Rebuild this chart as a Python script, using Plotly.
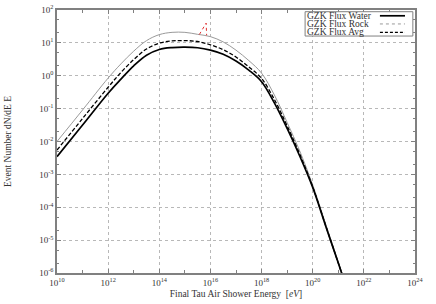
import plotly.graph_objects as go

# Energy grid (eV)
energy = [1e10, 1e11, 1e12, 10**12.5, 1e13, 10**13.5, 1e14, 10**14.5, 1e15, 10**15.5,
          1e16, 10**16.5, 1e17, 10**17.5, 1e18, 10**18.5, 1e19, 10**19.5, 1e20,
          10**20.5, 1e21, 10**21.3]

flux_water = [0.00347, 0.0316, 0.295, 0.79, 2.0, 4.2, 6.3, 7.2, 7.4, 7.1,
              6.0, 4.5, 2.8, 1.48, 0.66, 0.15, 0.025, 0.0035, 4.0e-4,
              2.8e-5, 2.0e-6, 4.0e-7]
flux_rock = [0.0100, 0.091, 0.85, 2.3, 5.6, 11.7, 17.8, 20.9, 20.9, 18.2,
             15.5, 10.7, 6.0, 2.9, 1.20, 0.26, 0.038, 0.0050, 4.8e-4,
             3.2e-5, 2.2e-6, 4.3e-7]
flux_avg = [0.0055, 0.050, 0.447, 1.26, 3.1, 6.5, 9.8, 11.5, 11.7, 11.0,
            8.7, 6.2, 3.7, 1.86, 0.83, 0.19, 0.030, 0.0040, 4.2e-4,
            2.9e-5, 2.0e-6, 4.1e-7]

spike_energy = [3.7e15, 6.8e15, 7.1e15]
spike_flux = [18, 40, 17]

x_tick_exp = [10, 12, 14, 16, 18, 20, 22, 24]
y_tick_exp = [-6, -5, -4, -3, -2, -1, 0, 1, 2]
legend_names = ["GZK Flux Water", "GZK Flux Rock", "GZK Flux Avg"]

serif = "Liberation Serif"

fig = go.Figure()
fig.add_trace(go.Scatter(x=energy, y=flux_rock, mode="lines", name=legend_names[1],
                         line=dict(color="#9a9a9a", width=1, shape="spline")))
fig.add_trace(go.Scatter(x=energy, y=flux_avg, mode="lines", name=legend_names[2],
                         line=dict(color="black", width=1.3, dash="4px,2px", shape="spline")))
fig.add_trace(go.Scatter(x=energy, y=flux_water, mode="lines", name=legend_names[0],
                         line=dict(color="black", width=1.7, shape="spline")))
fig.add_trace(go.Scatter(x=spike_energy, y=spike_flux, mode="lines",
                         line=dict(color="#e03030", width=1, dash="dot"), showlegend=False))

axis_common = dict(
    type="log", showline=True, linecolor="#808080", linewidth=1.5, mirror="ticks",
    ticks="inside", ticklen=4, tickcolor="#808080", tickwidth=1,
    showgrid=True, gridcolor="#b8b8b8", griddash="dot", gridwidth=1,
    zeroline=False, tickfont=dict(family=serif, size=9, color="#333"),
)

fig.update_xaxes(
    **axis_common,
    range=[10, 24],
    tickvals=[10.0**e for e in x_tick_exp],
    ticktext=[f"10<sup>{e}</sup>" for e in x_tick_exp],
    minor=dict(tickvals=[10.0**(e + 1) for e in x_tick_exp[:-1]], ticks="inside",
               ticklen=3, tickcolor="#808080", showgrid=False),
    title=dict(text="Final Tau Air Shower Energy  [<i>eV</i>]",
               font=dict(family=serif, size=9.5, color="#333"), standoff=4),
)
fig.update_yaxes(
    **axis_common,
    range=[-6, 2],
    tickvals=[10.0**e for e in y_tick_exp],
    ticktext=[f"10<sup>{e}</sup>" for e in y_tick_exp],
    minor=dict(dtick="D2", ticks="inside", ticklen=2.5, tickcolor="#808080", showgrid=False),
    title=dict(text="Event Number dN/dE E",
               font=dict(family=serif, size=9.5, color="#333"), standoff=26),
)

# custom legend (text left, sample right) in a white box
fig.add_shape(type="rect", xref="paper", yref="paper", x0=0.693, x1=0.994, y0=0.901, y1=0.9935,
              fillcolor="white", line=dict(color="#808080", width=1), layer="above")
label_y = [0.978, 0.947, 0.915]
sample_styles = [dict(color="black", width=1.7),
                 dict(color="#9a9a9a", width=1, dash="dot"),
                 dict(color="black", width=1.3, dash="3px,2px")]
for name, yy, st in zip(legend_names, label_y, sample_styles):
    fig.add_annotation(text=name, xref="paper", yref="paper", x=0.694, y=yy,
                       xanchor="left", yanchor="middle", showarrow=False,
                       font=dict(family=serif, size=9.5, color="#333"))
    fig.add_shape(type="line", xref="paper", yref="paper", x0=0.902, x1=0.972, y0=yy, y1=yy,
                  line=st, layer="above")

fig.update_layout(
    width=436, height=304,
    margin=dict(l=57, r=21, t=10, b=31, autoexpand=False),
    paper_bgcolor="white", plot_bgcolor="white",
    showlegend=False,
)

fig.write_html("out.html", config={"displayModeBar": False},
               post_script="document.body.style.margin='0';document.body.style.overflow='hidden';")
